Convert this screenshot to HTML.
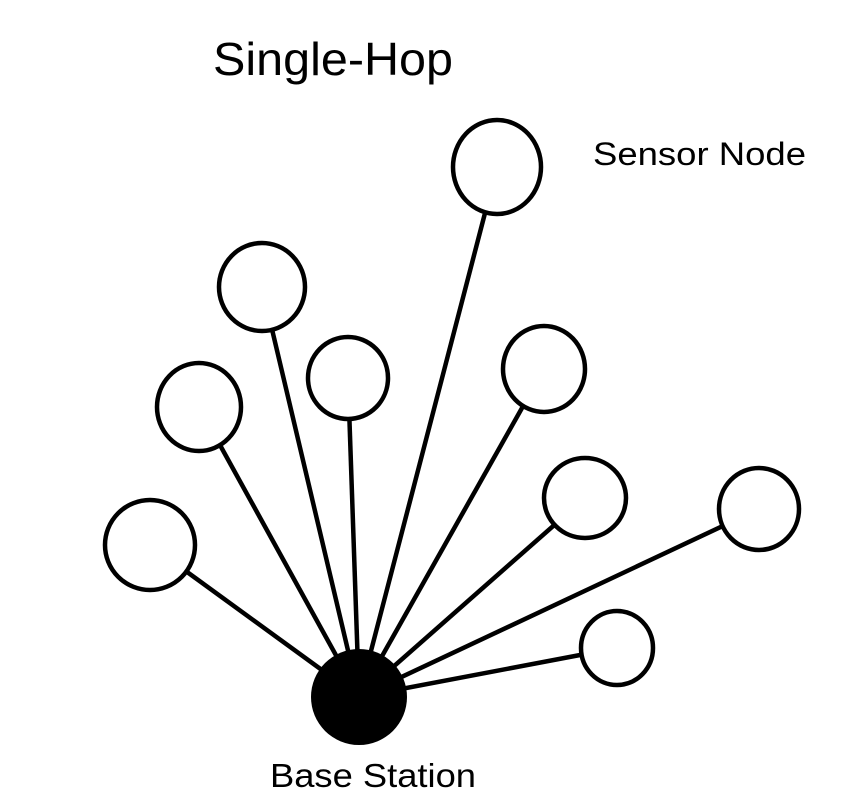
<!DOCTYPE html>
<html><head><style>body{margin:0;background:#fff}</style></head><body>
<svg width="851" height="797" xmlns="http://www.w3.org/2000/svg" style="display:block">
<g stroke="#000" stroke-width="4.5">
<line x1="359" y1="697" x2="497" y2="167"/>
<line x1="359" y1="697" x2="262" y2="287"/>
<line x1="359" y1="697" x2="348" y2="378"/>
<line x1="359" y1="697" x2="199" y2="407"/>
<line x1="359" y1="697" x2="544" y2="369"/>
<line x1="359" y1="697" x2="150" y2="545"/>
<line x1="359" y1="697" x2="585" y2="498"/>
<line x1="359" y1="697" x2="759" y2="509"/>
<line x1="359" y1="697" x2="617" y2="648"/>
</g>
<g stroke="#000" stroke-width="4.5" fill="#fff">
<ellipse cx="497" cy="167" rx="44" ry="47"/>
<ellipse cx="262" cy="287" rx="43" ry="44"/>
<ellipse cx="348" cy="378" rx="40" ry="41"/>
<ellipse cx="199" cy="407" rx="42" ry="44"/>
<ellipse cx="544" cy="369" rx="41" ry="43"/>
<ellipse cx="150" cy="545" rx="45" ry="45"/>
<ellipse cx="585" cy="498" rx="41" ry="40"/>
<ellipse cx="759" cy="509" rx="40" ry="41"/>
<ellipse cx="617" cy="648" rx="36" ry="37"/>
</g>
<circle cx="359" cy="697" r="48" fill="#000"/>
<g font-family="Liberation Sans, sans-serif" fill="#000">
<text x="213" y="75" font-size="46" textLength="240" lengthAdjust="spacingAndGlyphs">Single-Hop</text>
<text x="593" y="165" font-size="32" textLength="213" lengthAdjust="spacingAndGlyphs">Sensor Node</text>
<text x="270" y="787" font-size="33" textLength="206" lengthAdjust="spacingAndGlyphs">Base Station</text>
</g>
</svg>
</body></html>
